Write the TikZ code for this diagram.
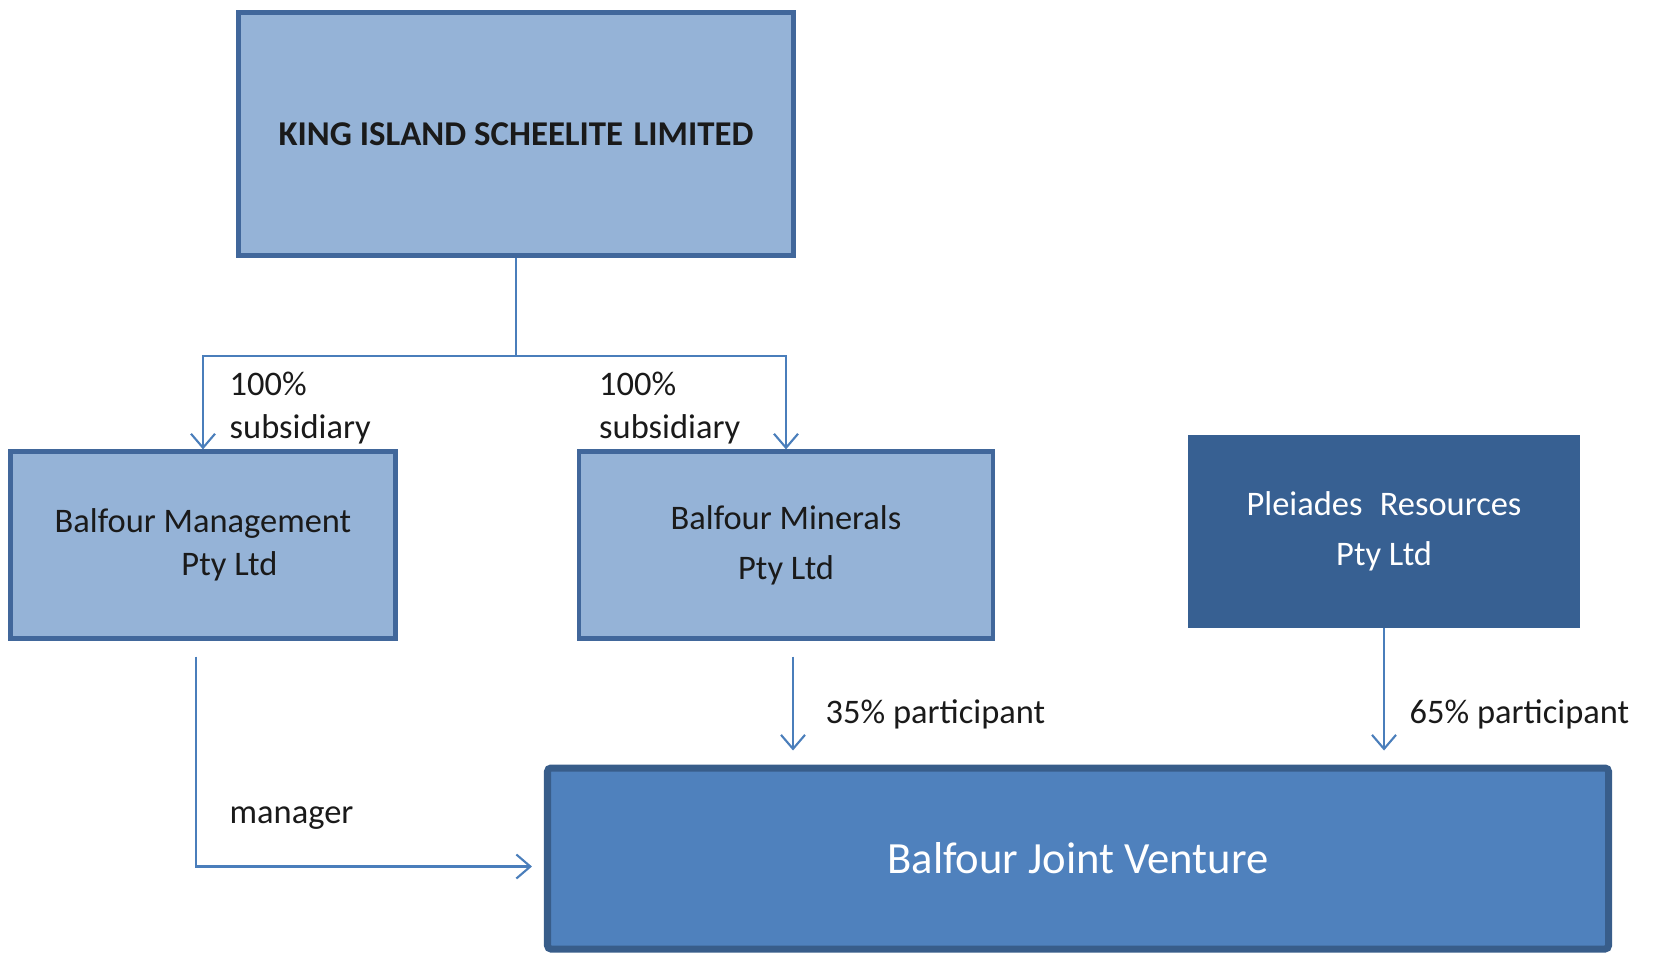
\documentclass[tikz,border=0pt]{standalone}
\usepackage{fontspec}
\setmainfont{Carlito}
\usepackage{tikz}
\usetikzlibrary{arrows.meta}
\definecolor{boxfill}{HTML}{95B3D7}
\definecolor{boxline}{HTML}{41679B}
\definecolor{darkfill}{HTML}{376092}
\definecolor{jvfill}{HTML}{4F81BD}
\definecolor{jvline}{HTML}{385D8A}
\definecolor{linkblue}{HTML}{4A7EBB}
\definecolor{txt}{HTML}{1A1A1A}

\tikzset{
	company/.style={draw=boxline, fill=boxfill, line width=1.2pt, rectangle, inner sep=0pt, minimum height=1.87cm, text=txt, align=center, font=\fontsize{9.8}{12.3}\selectfont},
	partner/.style={company, draw=darkfill, fill=darkfill, text=white},
	venture/.style={company, draw=jvline, fill=jvfill, line width=2pt, rounded corners=1pt, text=white, font=\fontsize{12.7}{15}\selectfont},
	link/.style={draw=linkblue, line width=0.6pt},
	lbl/.style={anchor=west, inner sep=0pt, align=left, text=txt, font=\fontsize{9.8}{12.3}\selectfont}
}

\begin{document}
\begin{tikzpicture}[>={Straight Barb[length=1.4mm,width=2.4mm]}]
	\useasboundingbox (0,0) rectangle (16.55,-9.52);
	\node[company, minimum width=5.55cm, minimum height=2.43cm, font=\bfseries\fontsize{9.9}{12}\selectfont] (kisl) at (5.16,-1.34) {KING ISLAND SCHEELITE\hspace{0.3em}LIMITED};
	\node[company, minimum width=3.85cm, node distance=4.11cm, below of=kisl, xshift=-3.13cm] (mgmt) {Balfour Management\\\hspace*{15pt}Pty Ltd};
	\node[company, minimum width=4.14cm, node distance=4.11cm, below of=kisl, xshift=2.70cm] (minerals) {Balfour Minerals\\[2pt]Pty Ltd};
	\node[partner, minimum width=3.88cm, minimum height=1.89cm, node distance=5.98cm, right of=minerals, yshift=0.135cm] (pleiades) {Pleiades\hspace{0.5em}Resources\\[2pt]Pty Ltd};
	\node[venture, minimum width=10.61cm, minimum height=1.81cm] (jv) at (10.78,-8.585) {Balfour Joint Venture};
	
	\coordinate (split) at ([yshift=-0.98cm]kisl.south);
	\draw[link] (kisl.south) -- (split);
	\draw[link,->] (split) -| (mgmt.north);
	\draw[link,->] (split) -| (minerals.north);
	\node[lbl] (sub1) at (2.29,-4.08) {100\%\\subsidiary};
	\node[lbl] (sub2) at (5.985,-4.08) {100\%\\subsidiary};
	
	\draw[link,->] ([xshift=-0.07cm,yshift=-0.16cm]mgmt.south) |- ([xshift=-0.12cm,yshift=-0.08cm]jv.west);
	\node[lbl] (mgr) at (2.29,-8.18) {manager};
	\draw[link,->] ([xshift=0.07cm,yshift=-0.16cm]minerals.south) -- ([xshift=0.07cm,yshift=0.14cm]minerals.south |- jv.north);
	\node[lbl] (p35) at (8.25,-7.14) {35\% participant};
	\draw[link,->] (pleiades.south) -- ([yshift=0.14cm]pleiades.south |- jv.north);
	\node[lbl] (p65) at (14.09,-7.14) {65\% participant};
\end{tikzpicture}
\end{document}
